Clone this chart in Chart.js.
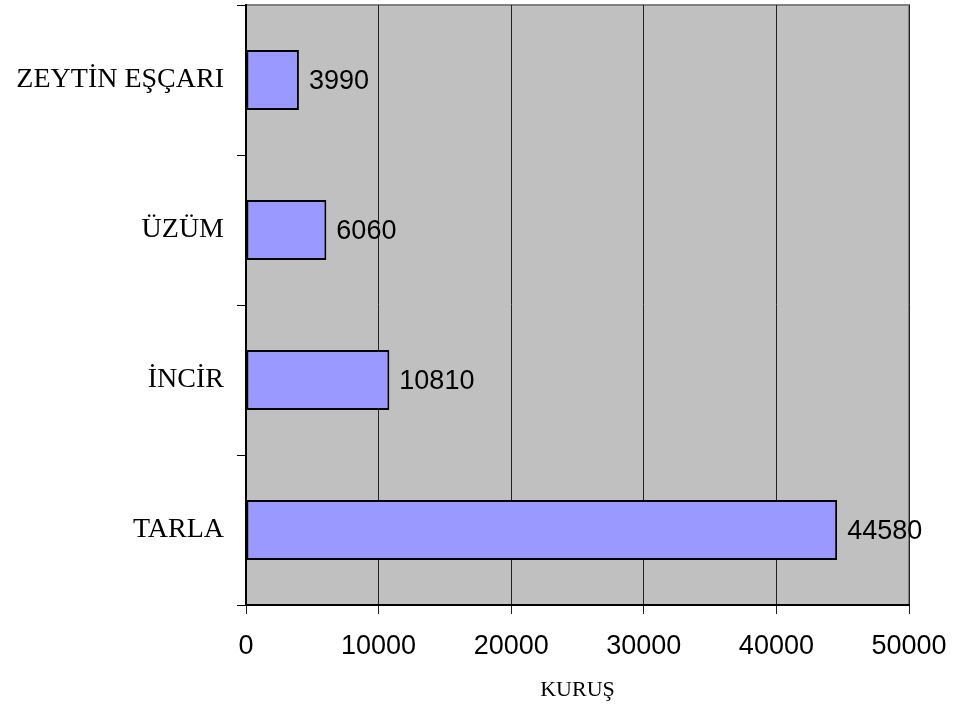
<!DOCTYPE html>
<html>
<head>
<meta charset="utf-8">
<script src="https://cdn.jsdelivr.net/npm/chart.js@4"></script>
<style>
  html, body { margin: 0; padding: 0; background: #fff; }
  #wrap { width: 961px; height: 708px; }
</style>
</head>
<body>
<div id="wrap"><canvas id="grafik" width="961" height="708"></canvas></div>
<script>
const kategoriler = ['ZEYTİN EŞÇARI', 'ÜZÜM', 'İNCİR', 'TARLA'];
const degerler = [3990, 6060, 10810, 44580];
const eksenBasligi = 'KURUŞ';

// gray plot background with a thin frame
const arkaPlan = {
    id: 'arkaPlan',
    beforeDraw(chart) {
        const a = chart.chartArea;
        const c = chart.ctx;
        c.save();
        c.fillStyle = '#c0c0c0';
        c.fillRect(a.left, a.top, a.right - a.left, a.bottom - a.top);
        c.strokeStyle = '#808080';
        c.lineWidth = 2;
        c.beginPath();
        c.moveTo(a.left, a.top);
        c.lineTo(a.right, a.top);
        c.lineTo(a.right, a.bottom);
        c.stroke();
        c.restore();
    }
};

// value labels to the right of each bar
const degerEtiketi = {
    id: 'degerEtiketi',
    afterDatasetsDraw(chart) {
        const c = chart.ctx;
        const meta = chart.getDatasetMeta(0);
        c.save();
        c.font = '27px "Liberation Sans", Arial, sans-serif';
        c.fillStyle = '#000';
        c.textAlign = 'left';
        c.textBaseline = 'middle';
        meta.data.forEach((bar, i) => {
            c.fillText(String(degerler[i]), bar.x + 10, bar.y + 2);
        });
        c.restore();
    }
};

const ctx = document.getElementById('grafik').getContext('2d');
new Chart(ctx, {
    type: 'bar',
    data: {
        labels: kategoriler,
        datasets: [{
            data: degerler,
            backgroundColor: '#9999ff',
            borderColor: '#000',
            borderWidth: 2,
            borderSkipped: false,
            categoryPercentage: 1,
            barPercentage: 0.4
        }]
    },
    options: {
        indexAxis: 'y',
        responsive: false,
        animation: false,
        layout: { padding: { top: 5, right: 52, left: 0, bottom: 0 } },
        plugins: {
            legend: { display: false },
            tooltip: { enabled: false }
        },
        scales: {
            x: {
                min: 0,
                max: 50000,
                ticks: {
                    stepSize: 10000,
                    color: '#000',
                    padding: 16,
                    callback: (v) => String(v),
                    font: { family: '"Liberation Sans", Arial, sans-serif', size: 27 }
                },
                grid: { color: '#222', lineWidth: 1, tickLength: 9 },
                border: { color: '#000', width: 2 },
                title: {
                    display: true,
                    text: eksenBasligi,
                    color: '#000',
                    padding: { top: 0, bottom: 5 },
                    font: { family: '"Liberation Serif", "Times New Roman", serif', size: 22 }
                },
                afterFit(scale) {
                    scale.height = 103;
                    scale.paddingLeft = 0;
                    scale.paddingRight = 0;
                }
            },
            y: {
                ticks: {
                    color: '#000',
                    padding: 13,
                    font: { family: '"Liberation Serif", "Times New Roman", serif', size: 28 }
                },
                grid: { drawOnChartArea: false, color: '#000', tickLength: 9, offset: true },
                border: { color: '#000', width: 2 },
                afterFit(scale) {
                    scale.width = 246;
                    scale.paddingTop = 0;
                    scale.paddingBottom = 0;
                }
            }
        }
    },
    plugins: [arkaPlan, degerEtiketi]
});
</script>
</body>
</html>
